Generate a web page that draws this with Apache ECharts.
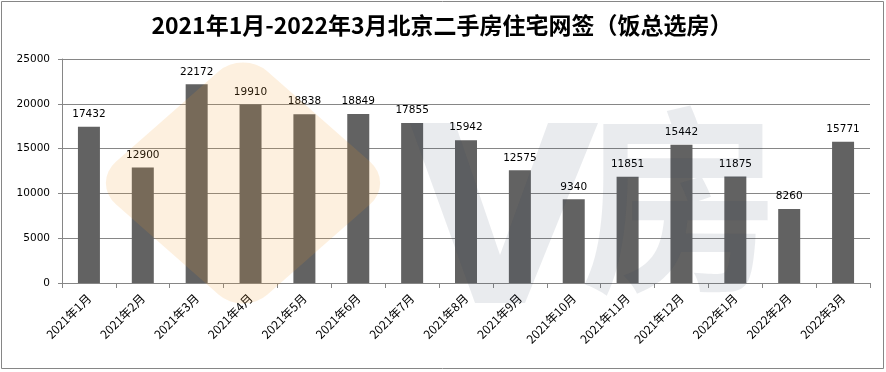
<!DOCTYPE html>
<html><head><meta charset="utf-8">
<script src="https://cdn.jsdelivr.net/npm/echarts@6/dist/echarts.min.js"></script>
<style>html,body{margin:0;padding:0;background:#fff;}#c{width:886px;height:372px;}</style>
</head><body><div id="c"></div>
<script>
const titleText = '2021年1月-2022年3月北京二手房住宅网签（饭总选房）';
const categories = ['2021年1月','2021年2月','2021年3月','2021年4月','2021年5月','2021年6月','2021年7月','2021年8月','2021年9月','2021年10月','2021年11月','2021年12月','2022年1月','2022年2月','2022年3月'];
const signings = [17432,12900,22172,19910,18838,18849,17855,15942,12575,9340,11851,15442,11875,8260,15771];
const yMin = 0, yMax = 25000, yStep = 5000;

const chart = echarts.init(document.getElementById('c'), null, {renderer:'canvas'});
const numFont = 'DejaVu Sans';
const cjkFont = '"Noto Sans CJK SC", "Noto Sans", sans-serif';
chart.setOption({
  animation:false,
  backgroundColor:'#fff',
  title:{text:titleText,left:437,textAlign:'center',top:9,textStyle:{fontFamily:cjkFont,fontSize:23,fontWeight:'bold',color:'#000'}},
  grid:{left:62,right:16,top:59,bottom:89,containLabel:false},
  xAxis:{type:'category',data:categories,boundaryGap:true,
    axisLine:{lineStyle:{color:'#868686',width:1}},
    axisTick:{show:true,length:5,lineStyle:{color:'#868686'}},
    axisLabel:{rotate:45,interval:0,fontFamily:cjkFont,fontSize:12,color:'#000',margin:13}},
  yAxis:{type:'value',min:yMin,max:yMax,interval:yStep,
    axisLine:{show:true,lineStyle:{color:'#868686'}},
    axisTick:{show:true,length:4,lineStyle:{color:'#868686'}},
    splitLine:{lineStyle:{color:'#868686',width:1}},
    axisLabel:{fontFamily:numFont,fontSize:10.5,color:'#000',margin:12,formatter:v=>String(v)}},
  series:[{type:'bar',data:signings,barWidth:22,itemStyle:{color:'#626262'},
    label:{show:true,position:'top',distance:7,fontFamily:numFont,fontSize:10.5,color:'#000',formatter:p=>String(p.value)}}],
  graphic:[
    {type:'group',z:100,silent:true,x:243,y:183,scaleX:1.07,scaleY:0.94,children:[
      {type:'rect',z:100,silent:true,shape:{x:-100,y:-100,width:200,height:200,r:32},rotation:Math.PI/4,
        style:{fill:'rgba(242,156,38,0.15)'}}
    ]},
    {type:'polygon',z:100,silent:true,shape:{points:[[410,123],[455,123],[500,255],[548,123],[598,123],[525,303],[475,303]]},
      style:{fill:'rgba(40,55,90,0.1)'}},
    {type:'text',z:100,silent:true,x:580,y:100,style:{text:'房',font:'bold 200px "Noto Sans CJK SC"',fill:'rgba(40,55,90,0.1)'}},
    {type:'rect',z:101,silent:true,shape:{x:1.5,y:1.5,width:882,height:367},style:{fill:'none',stroke:'#868686',lineWidth:1}}
  ]
});
</script></body></html>
